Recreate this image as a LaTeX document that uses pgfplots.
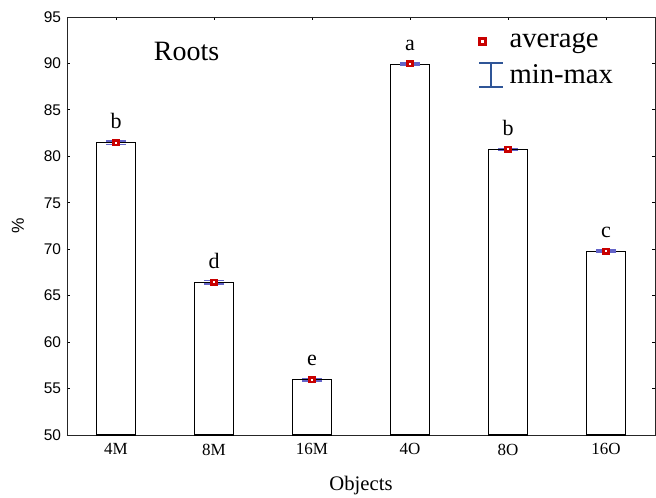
\documentclass[border=0pt]{standalone}
\usepackage{pgfplots}
\pgfplotsset{compat=1.18}
\usepackage{fontspec}
\setmainfont{Liberation Serif}
\setsansfont{Liberation Sans}
\definecolor{mred}{RGB}{200,0,0}
\definecolor{eblue}{RGB}{100,100,200}
\definecolor{lblue}{RGB}{47,85,151}
\pgfplotstableread{
x y lab
0 81.45 b
1 66.4 d
2 55.95 e
3 89.9 a
4 80.7 b
5 69.75 c
}\bardata
\pgfplotstableread{
x y e
0 81.45 0.2
1 66.45 0.2
2 55.95 0.12
3 89.95 0.1
4 80.75 0.1
5 69.8 0.12
}\errdata
\begin{document}
\begin{tikzpicture}
\begin{axis}[
  width=441pt, height=313.5pt, scale only axis,
  xmin=-0.5, xmax=5.5, ymin=50, ymax=95,
  xtick={0,...,5}, xticklabels={4M,8M,16M,4O,8O,16O},
  ytick={50,55,...,95},
  /pgf/number format/assume math mode=true,
  yticklabel style={font=\sffamily\fontsize{11.6}{14}\selectfont, xshift=-1pt},
  xticklabel style={font=\fontsize{12.75}{15}\selectfont, yshift=-3pt},
  major tick length=2.5pt,
  tick style={black, line width=0.6pt},
  axis line style={line width=0.7pt, black!85},
  ylabel={\%},
  ylabel style={font=\sffamily\fontsize{13}{15}\selectfont, at={(axis description cs:-0.0833,0.5)}, anchor=center},
  xlabel={Objects},
  xlabel style={font=\fontsize{15.5}{18}\selectfont, at={(axis description cs:0.5,-0.122)}, anchor=center},
  legend style={at={(axis cs:3.64,93.85)}, anchor=north west, draw=none, fill=none,
    font=\fontsize{21.5}{24}\selectfont, row sep=7pt},
  legend cell align=left,
  clip=false,
]
\addplot[forget plot, ybar, bar width=0.4, fill=white, draw=black, line width=0.8pt,
  nodes near coords, point meta=explicit symbolic,
  nodes near coords style={font=\fontsize{16.5}{18}\selectfont, anchor=base, yshift=10.5pt}]
  table[x=x, y=y, meta=lab] {\bardata};
\addplot[forget plot, only marks, mark=square*, mark size=1.7pt,
  mark options={draw=mred, fill=white, line width=1.9pt},
  error bars/.cd, y dir=both, y explicit,
  error bar style={eblue, line width=0.9pt},
  error mark=-, error mark options={rotate=90, eblue, mark size=7.5pt, line width=1.1pt}]
  table[x=x, y=y, y error=e] {\errdata};
\addlegendimage{legend image code/.code={
  \path (0pt,0pt) (22pt,0pt);
  \draw[mred, fill=white, line width=2.2pt] (1.6pt,-2.2pt) rectangle (5.9pt,2.2pt);}}
\addlegendentry{average}
\addlegendimage{legend image code/.code={
  \path (0pt,0pt) (22pt,0pt);
  \draw[lblue, line width=1.5pt] (1.5pt,9pt) -- (19.5pt,9pt) (10.5pt,9pt) -- (10.5pt,-9pt) (1.5pt,-9pt) -- (19.5pt,-9pt);}}
\addlegendentry{min-max}
\node[font=\fontsize{21}{24}\selectfont, anchor=base] at (axis cs:0.72,90.37) {Roots};
\end{axis}
\pgfresetboundingbox
\path ([xshift=-50.25pt,yshift=-46.5pt]current axis.south west) rectangle ([xshift=0.75pt,yshift=12.75pt]current axis.north east);
\end{tikzpicture}
\end{document}
